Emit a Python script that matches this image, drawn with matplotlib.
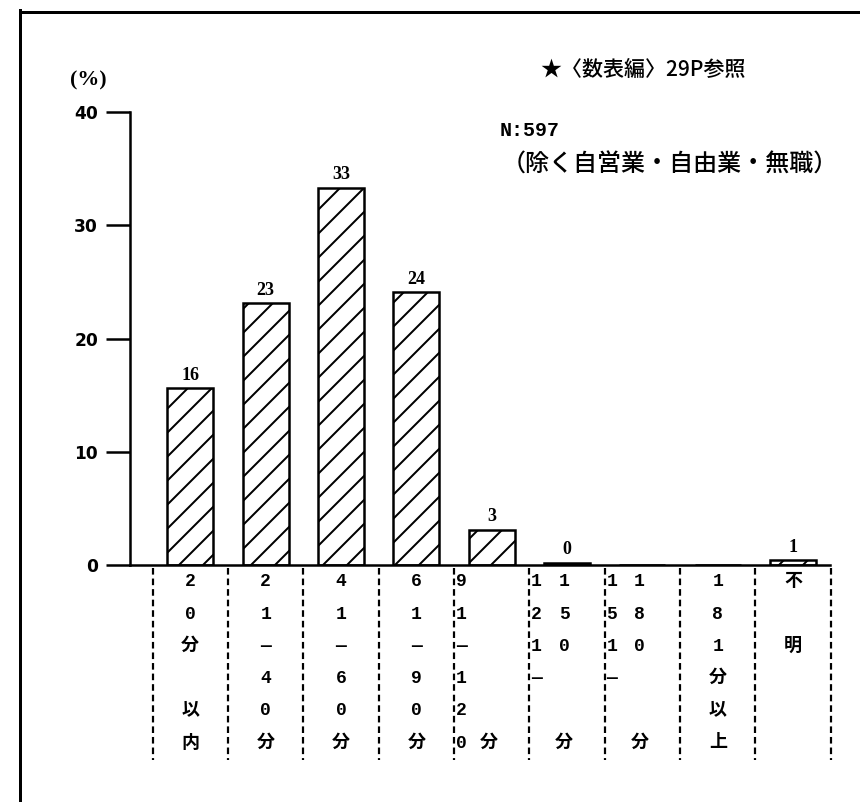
import matplotlib.pyplot as plt
from matplotlib.lines import Line2D

# data (通勤時間, %)
categories = ["20分以内", "21-40分", "41-60分", "61-90分", "91-120分",
              "121-150分", "151-180分", "181分以上", "不明"]
values = [15.6, 23.1, 33.3, 24.1, 3.1, 0.2, 0.0, 0.0, 0.4]
bar_labels = ["16", "23", "33", "24", "3", "0", "", "", "1"]

# tick labels written vertically, one entry per row
cat_rows = [
    ["2", "0", "分", "", "以", "内"],
    ["2", "1", "—", "4", "0", "分"],
    ["4", "1", "—", "6", "0", "分"],
    ["6", "1", "—", "9", "0", "分"],
    ["9", "1", "—", "1", "2", "0分"],
    ["11", "25", "10", "—", "", " 分"],
    ["11", "58", "10", "—", "", " 分"],
    ["1", "8", "1", "分", "以", "上"],
    ["不", "", "明", "", "", ""],
]
two_cols = [False, False, False, False, True, True, True, False, False]

yticks = [0, 10, 20, 30, 40]

plt.rcParams['font.family'] = ['DejaVu Sans', 'Noto Sans CJK JP']
plt.rcParams['hatch.linewidth'] = 2.0

W, H = 860, 802
fig = plt.figure(figsize=(W / 72, H / 72), dpi=72)
ax = fig.add_axes([130 / W, 1 - 565 / H, 700 / W, 453 / H])

xs = list(range(len(values)))
ax.bar(xs, values, width=0.61, color='white', edgecolor='black',
       hatch='/', linewidth=2.5)

ax.set_xlim(-0.80, 8.49)
ax.set_ylim(0, 40)
ax.set_yticks(yticks)
ax.set_xticks([])
for s in ['top', 'right']:
    ax.spines[s].set_visible(False)
for s in ['left', 'bottom']:
    ax.spines[s].set_linewidth(2.5)
ax.tick_params(axis='y', length=24, width=2.5, pad=8, labelsize=17)
for t in ax.get_yticklabels():
    t.set_fontweight('bold')

# value labels above bars
for i, (v, lab) in enumerate(zip(values, bar_labels)):
    if lab:
        ax.annotate(lab, (i, v), xytext=(0, 13), textcoords='offset points',
                    ha='center', va='center', fontsize=18, fontweight='bold',
                    family='Liberation Serif')

# vertical category labels
lab_font = ['Liberation Mono', 'Noto Sans CJK JP']
for i, rows in enumerate(cat_rows):
    for r, s in enumerate(rows):
        dy = -(17 + 32.2 * r)
        if two_cols[i]:
            parts = [(s[0:1], -30.5), (s[1:2], -3)]
        else:
            parts = [(s, 0)]
        for txt, dx in parts:
            if txt.strip():
                ax.annotate(txt, (i, 0), xycoords=('data', 'axes fraction'),
                            xytext=(dx, dy), textcoords='offset points',
                            ha='center', va='center', fontsize=18,
                            fontweight='bold', family=lab_font)

# dashed separators between categories
for b in range(len(categories) + 1):
    ax.plot([b - 0.5, b - 0.5], [-0.007, -0.43],
            transform=ax.get_xaxis_transform(), clip_on=False,
            ls=(0, (3, 1.8)), lw=2.2, color='black')

fig.text(88 / W, 1 - 80 / H, "(%)", ha='center', va='center', fontsize=22,
         fontweight='bold', family='Liberation Serif')
fig.text(643 / W, 1 - 70 / H, "★〈数表編〉29P参照", ha='center', va='center',
         fontsize=21, fontweight='medium',
         family=['Noto Sans CJK JP', 'DejaVu Sans'])
fig.text(500 / W, 1 - 130 / H, "N:597", ha='left', va='center',
         fontsize=20, fontweight='bold', family='Liberation Mono')
fig.text(502 / W, 1 - 165 / H, "（除く自営業・自由業・無職）", ha='left',
         va='center', fontsize=24, fontweight='medium',
         family=['Noto Sans CJK JP', 'DejaVu Sans'])

# page frame
fig.add_artist(Line2D([20 / W, 20 / W], [0, 1 - 10 / H],
                      transform=fig.transFigure, lw=3, color='black'))
fig.add_artist(Line2D([20 / W, 1], [1 - 12 / H, 1 - 12 / H],
                      transform=fig.transFigure, lw=3, color='black'))

fig.savefig('out.png', dpi=72)
